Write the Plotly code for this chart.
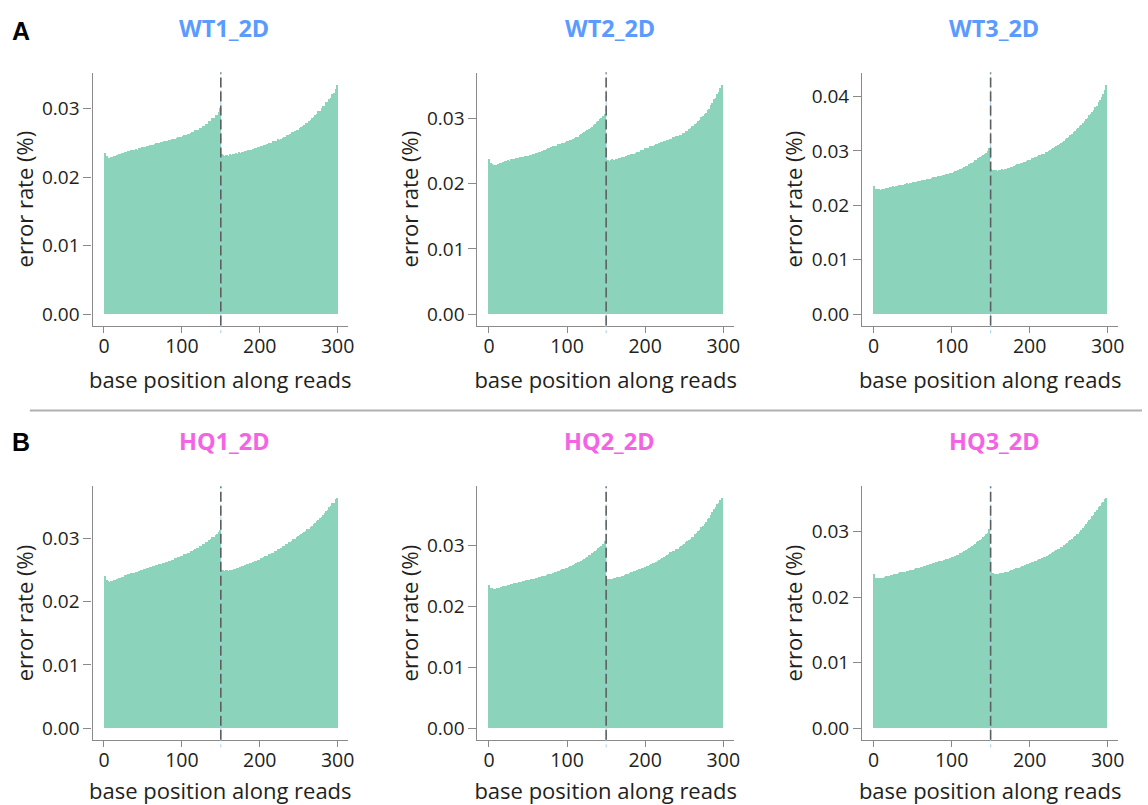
import plotly.graph_objects as go

# ---------------- data ----------------
# bar centres along the read (two 150-bp reads joined; width 2 each)
positions = list(range(1, 300, 2))
read_boundary = 150
x_tick_vals = [0, 100, 200, 300]

sample_names = ["WT1_2D", "WT2_2D", "WT3_2D", "HQ1_2D", "HQ2_2D", "HQ3_2D"]

wt1_2d = [
    .0236, .0231, .0229, .0229, .0230, .0230, .0232, .0232, .0233,
    .0235, .0234, .0236, .0236, .0238, .0237, .0239, .0239, .0240, .0240,
    .0241, .0242, .0241, .0243, .0243, .0244, .0244, .0245, .0246, .0246,
    .0247, .0248, .0248, .0249, .0250, .0250, .0251, .0252, .0252, .0253,
    .0253, .0254, .0255, .0255, .0256, .0257, .0257, .0258, .0259, .0259,
    .0260, .0261, .0262, .0262, .0264, .0264, .0265, .0267, .0267, .0269,
    .0270, .0270, .0272, .0273, .0275, .0276, .0278, .0279, .0282, .0283,
    .0287, .0287, .0291, .0292, .0296, .0302,
    .0235, .0233, .0232, .0233, .0232, .0234, .0233, .0235, .0234, .0236,
    .0235, .0237, .0236, .0238, .0237, .0239, .0239, .0240, .0241, .0241,
    .0242, .0243, .0243, .0244, .0245, .0246, .0246, .0247, .0248, .0249,
    .0250, .0250, .0251, .0253, .0253, .0254, .0256, .0255, .0257, .0258,
    .0260, .0260, .0262, .0262, .0264, .0266, .0266, .0268, .0270, .0270,
    .0273, .0274, .0276, .0277, .0280, .0280, .0283, .0284, .0287, .0289,
    .0292, .0293, .0297, .0298, .0301, .0304, .0305, .0310, .0310, .0315,
    .0317, .0322, .0323, .0330, .0336,
]

wt2_2d = [
    .0238, .0233, .0231, .0230, .0230, .0230, .0231, .0232, .0233,
    .0234, .0235, .0235, .0237, .0236, .0238, .0238, .0239, .0240, .0240,
    .0240, .0241, .0242, .0242, .0243, .0243, .0244, .0245, .0245, .0246,
    .0247, .0248, .0248, .0249, .0250, .0251, .0253, .0253, .0254, .0255,
    .0256, .0257, .0258, .0258, .0259, .0261, .0261, .0262, .0263, .0263,
    .0264, .0266, .0266, .0268, .0268, .0270, .0271, .0273, .0273, .0275,
    .0277, .0278, .0280, .0281, .0283, .0284, .0287, .0288, .0291, .0292,
    .0296, .0297, .0300, .0301, .0305, .0308,
    .0238, .0237, .0236, .0237, .0238, .0237, .0239, .0238, .0240, .0240,
    .0241, .0242, .0242, .0243, .0245, .0245, .0246, .0247, .0247, .0248,
    .0249, .0250, .0252, .0252, .0253, .0255, .0255, .0256, .0258, .0258,
    .0259, .0260, .0262, .0261, .0263, .0264, .0264, .0266, .0266, .0268,
    .0268, .0270, .0270, .0272, .0272, .0274, .0274, .0276, .0276, .0278,
    .0279, .0281, .0282, .0285, .0286, .0289, .0290, .0293, .0294, .0297,
    .0299, .0303, .0304, .0308, .0310, .0314, .0316, .0321, .0325, .0331,
    .0333, .0339, .0341, .0348, .0353,
]

wt3_2d = [
    .0236, .0231, .0230, .0230, .0229, .0230, .0230, .0231, .0232,
    .0233, .0234, .0234, .0236, .0235, .0237, .0237, .0238, .0238, .0239,
    .0239, .0240, .0241, .0240, .0242, .0242, .0243, .0243, .0244, .0245,
    .0245, .0246, .0247, .0247, .0248, .0249, .0249, .0250, .0251, .0252,
    .0252, .0253, .0254, .0255, .0255, .0256, .0257, .0258, .0258, .0259,
    .0260, .0261, .0262, .0263, .0264, .0266, .0267, .0268, .0270, .0271,
    .0273, .0274, .0276, .0278, .0279, .0281, .0284, .0285, .0288, .0289,
    .0292, .0293, .0296, .0297, .0301, .0306,
    .0267, .0266, .0265, .0265, .0264, .0266, .0266, .0267, .0266, .0267,
    .0268, .0269, .0270, .0271, .0272, .0273, .0275, .0276, .0277, .0278,
    .0279, .0281, .0281, .0283, .0284, .0285, .0287, .0287, .0289, .0290,
    .0291, .0293, .0293, .0295, .0296, .0298, .0299, .0300, .0303, .0304,
    .0306, .0308, .0309, .0311, .0314, .0315, .0318, .0320, .0322, .0325,
    .0327, .0331, .0332, .0336, .0337, .0341, .0343, .0347, .0349, .0353,
    .0355, .0359, .0361, .0366, .0368, .0373, .0376, .0381, .0384, .0390,
    .0394, .0400, .0405, .0413, .0423,
]

hq1_2d = [
    .0240, .0234, .0232, .0231, .0232, .0232, .0234, .0234, .0235,
    .0237, .0237, .0239, .0239, .0241, .0241, .0243, .0243, .0244, .0245,
    .0245, .0247, .0247, .0248, .0250, .0250, .0251, .0251, .0253, .0253,
    .0254, .0254, .0256, .0256, .0257, .0257, .0259, .0259, .0260, .0260,
    .0262, .0262, .0264, .0264, .0266, .0266, .0268, .0268, .0270, .0270,
    .0272, .0272, .0274, .0274, .0276, .0277, .0279, .0279, .0281, .0282,
    .0284, .0284, .0287, .0287, .0290, .0290, .0293, .0294, .0297, .0298,
    .0301, .0302, .0305, .0306, .0309, .0312,
    .0250, .0249, .0248, .0249, .0248, .0249, .0250, .0250, .0251, .0251,
    .0252, .0253, .0254, .0256, .0256, .0257, .0259, .0259, .0261, .0261,
    .0262, .0264, .0264, .0266, .0266, .0268, .0269, .0270, .0272, .0272,
    .0274, .0275, .0277, .0277, .0279, .0280, .0282, .0283, .0285, .0287,
    .0288, .0290, .0291, .0293, .0294, .0296, .0298, .0299, .0301, .0303,
    .0304, .0307, .0308, .0310, .0311, .0314, .0315, .0318, .0319, .0322,
    .0323, .0327, .0328, .0332, .0333, .0337, .0339, .0343, .0345, .0349,
    .0351, .0355, .0356, .0361, .0364,
]

hq2_2d = [
    .0235, .0230, .0229, .0228, .0228, .0229, .0229, .0230, .0231,
    .0232, .0233, .0233, .0235, .0235, .0236, .0236, .0238, .0238, .0238,
    .0239, .0240, .0240, .0241, .0241, .0242, .0242, .0243, .0244, .0244,
    .0245, .0246, .0246, .0247, .0248, .0249, .0249, .0250, .0251, .0252,
    .0253, .0253, .0254, .0255, .0256, .0257, .0258, .0259, .0260, .0261,
    .0262, .0263, .0264, .0265, .0266, .0268, .0269, .0270, .0272, .0273,
    .0274, .0276, .0277, .0279, .0280, .0283, .0284, .0287, .0288, .0291,
    .0292, .0295, .0296, .0299, .0301, .0306,
    .0246, .0245, .0245, .0244, .0245, .0246, .0246, .0247, .0247, .0248,
    .0249, .0250, .0251, .0252, .0253, .0254, .0255, .0256, .0257, .0258,
    .0259, .0260, .0261, .0262, .0263, .0264, .0265, .0266, .0268, .0269,
    .0270, .0271, .0273, .0274, .0276, .0277, .0279, .0280, .0282, .0284,
    .0285, .0288, .0288, .0291, .0291, .0294, .0294, .0297, .0298, .0300,
    .0302, .0305, .0306, .0309, .0310, .0313, .0314, .0318, .0319, .0323,
    .0325, .0329, .0331, .0335, .0338, .0342, .0345, .0350, .0354, .0359,
    .0362, .0367, .0369, .0374, .0378,
]

hq3_2d = [
    .0235, .0229, .0228, .0228, .0228, .0228, .0229, .0230, .0231,
    .0231, .0232, .0233, .0233, .0234, .0235, .0235, .0236, .0237, .0237,
    .0238, .0238, .0239, .0239, .0240, .0241, .0241, .0242, .0243, .0243,
    .0244, .0245, .0245, .0246, .0247, .0248, .0248, .0249, .0250, .0251,
    .0251, .0252, .0253, .0254, .0254, .0255, .0256, .0257, .0258, .0258,
    .0259, .0260, .0261, .0262, .0263, .0264, .0266, .0267, .0268, .0270,
    .0271, .0273, .0274, .0276, .0277, .0279, .0280, .0283, .0284, .0287,
    .0288, .0291, .0292, .0295, .0297, .0303,
    .0237, .0236, .0235, .0235, .0235, .0235, .0236, .0236, .0236, .0237,
    .0238, .0238, .0239, .0240, .0241, .0242, .0243, .0244, .0244, .0245,
    .0246, .0247, .0248, .0249, .0249, .0251, .0252, .0253, .0254, .0255,
    .0256, .0257, .0258, .0259, .0260, .0261, .0262, .0264, .0265, .0267,
    .0268, .0269, .0271, .0272, .0273, .0275, .0276, .0278, .0280, .0282,
    .0284, .0287, .0288, .0291, .0292, .0295, .0296, .0299, .0301, .0304,
    .0307, .0311, .0313, .0317, .0319, .0323, .0325, .0329, .0332, .0337,
    .0338, .0342, .0344, .0348, .0351,
]

series = [wt1_2d, wt2_2d, wt3_2d, hq1_2d, hq2_2d, hq3_2d]
for s in series:
    assert len(s) == len(positions), len(s)

# ---------------- style ----------------
W, H = 1148, 805
BAR = "#8bd3bb"
AXIS = "#8a8a8a"
TEXT = "#231f20"
FONT = "Open Sans"
TITLE_COLORS = ["#5b9bff"] * 3 + ["#f463e4"] * 3

col_px = [(93, 350), (480, 737.7), (866.7, 1124)]
row_px = [(72.7, 326), (487, 740.7)]
title_y_px = [28, 442]
panel_label_y_px = [31, 443]

fig = go.Figure()
layout = dict(
    width=W, height=H, autosize=False,
    margin=dict(l=0, r=0, t=0, b=0),
    paper_bgcolor="white", plot_bgcolor="white",
    bargap=0, showlegend=False,
    font=dict(family=FONT, size=19, color=TEXT),
)
shapes, annotations = [], []

for i, (name, vals) in enumerate(zip(sample_names, series)):
    r, c = divmod(i, 3)
    k = i + 1
    xa = "x" if k == 1 else f"x{k}"
    ya = "y" if k == 1 else f"y{k}"
    fig.add_trace(go.Bar(
        x=positions, y=vals, width=2,
        marker=dict(color=BAR, line=dict(width=0)),
        xaxis=xa, yaxis=ya, hoverinfo="x+y",
    ))
    x0p, x1p = col_px[c]
    y0p, y1p = row_px[r]
    ymax = max(vals)
    layout["xaxis" if k == 1 else f"xaxis{k}"] = dict(
        domain=[x0p / W, x1p / W], anchor=ya,
        range=[-14.7, 313.5], tickvals=x_tick_vals,
        ticks="outside", ticklen=6, tickwidth=1.3, tickcolor=AXIS,
        ticklabelstandoff=-3,
        showline=True, linecolor=AXIS, linewidth=1.3,
        showgrid=False, zeroline=False,
        tickfont=dict(family=FONT, size=19.5, color=TEXT),
        title=dict(text="base position along reads", standoff=14,
                   font=dict(family=FONT, size=22, color=TEXT)),
    )
    layout["yaxis" if k == 1 else f"yaxis{k}"] = dict(
        domain=[1 - y1p / H, 1 - y0p / H], anchor=xa,
        range=[-0.05 * ymax, 1.05 * ymax], dtick=0.01, tick0=0,
        tickformat=".2f",
        ticks="outside", ticklen=8, tickwidth=1.3, tickcolor=AXIS,
        showline=True, linecolor=AXIS, linewidth=1.3,
        showgrid=False, zeroline=False,
        tickfont=dict(family=FONT, size=19, color=TEXT),
        title=dict(text="error rate (%)", standoff=2,
                   font=dict(family=FONT, size=22, color=TEXT)),
    )
    # read boundary marker
    shapes.append(dict(type="line", xref=xa, yref=f"{ya} domain",
                       x0=read_boundary, x1=read_boundary, y0=-0.03, y1=1,
                       line=dict(color="#9fd3ee", width=1, dash="dot"),
                       layer="above"))
    shapes.append(dict(type="line", xref=xa, yref=f"{ya} domain",
                       x0=read_boundary, x1=read_boundary, y0=0, y1=1,
                       line=dict(color="#5e5e5e", width=1.6, dash="10px,4px"),
                       layer="above"))
    annotations.append(dict(
        text=f"<b>{name}</b>", xref="paper", yref="paper",
        x=((x0p + x1p) / 2 + 4) / W, y=1 - title_y_px[r] / H,
        xanchor="center", yanchor="middle", showarrow=False,
        font=dict(family=FONT, size=23.5, color=TITLE_COLORS[i]),
    ))

for lbl, ypx in zip(["A", "B"], panel_label_y_px):
    annotations.append(dict(
        text=f"<b>{lbl}</b>", xref="paper", yref="paper",
        x=10 / W, y=1 - ypx / H, xanchor="left", yanchor="middle",
        showarrow=False,
        font=dict(family="Liberation Sans", size=25, color="black"),
    ))

# separator between panel rows
shapes.append(dict(type="line", xref="paper", yref="paper",
                   x0=30 / W, x1=1, y0=1 - 411 / H, y1=1 - 411 / H,
                   line=dict(color="#b0b0b0", width=2)))

layout["shapes"] = shapes
layout["annotations"] = annotations
fig.update_layout(**layout)
fig.write_html("out.html",
               config={"displayModeBar": False},
               post_script="document.body.style.margin='0px';document.body.style.overflow='hidden';")
